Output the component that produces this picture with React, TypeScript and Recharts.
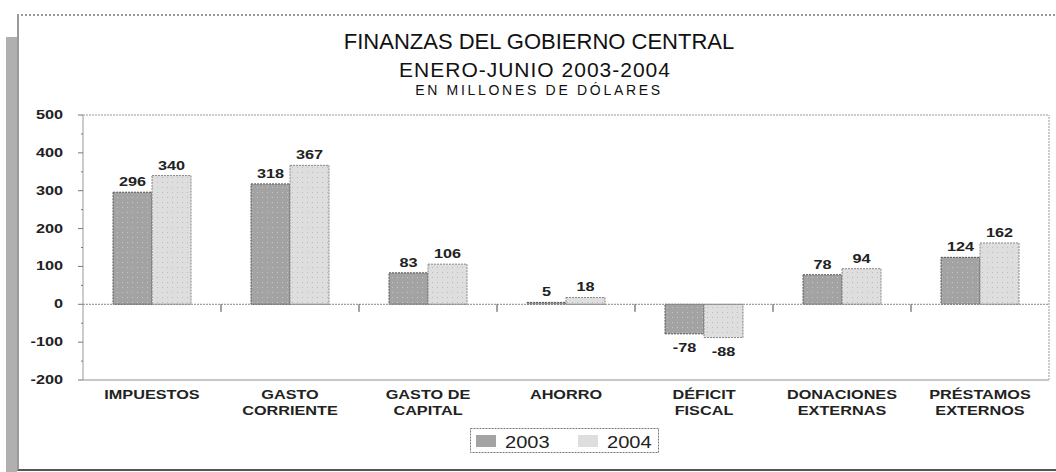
import React from 'react';
import {
  BarChart,
  Bar,
  XAxis,
  YAxis,
  ReferenceLine,
  LabelList,
} from 'recharts';

const categories = [
  'IMPUESTOS',
  'GASTO\nCORRIENTE',
  'GASTO DE\nCAPITAL',
  'AHORRO',
  'DÉFICIT\nFISCAL',
  'DONACIONES\nEXTERNAS',
  'PRÉSTAMOS\nEXTERNOS',
];
const values2003 = [296, 318, 83, 5, -78, 78, 124];
const values2004 = [340, 367, 106, 18, -88, 94, 162];
const yTicks = [-200, -150, -100, -50, 0, 50, 100, 150, 200, 250, 300, 350, 400, 450, 500];
const titleLines = ['FINANZAS DEL GOBIERNO CENTRAL', 'ENERO-JUNIO 2003-2004', 'EN MILLONES DE DÓLARES'];
const seriesNames = ['2003', '2004'];

const data = categories.map((name, i) => ({
  name,
  y2003: values2003[i],
  y2004: values2004[i],
}));

const FONT = 'Arial, "Liberation Sans", Helvetica, sans-serif';
const DARK = '#a3a3a3';
const LIGHT = '#dedede';
const SX = 1.25; // el original tiene el texto ensanchado

const YTick = (props: any) => {
  const { x, y, payload } = props;
  const major = payload.value % 100 === 0;
  return (
    <g>
      <line x1={x + (major ? 3 : 6)} x2={x + 8} y1={y} y2={y} stroke="#777" strokeWidth={1} />
      {major && (
        <g transform={`translate(${x - 12},${y + 4}) scale(${SX},1)`}>
          <text x={0} y={0} textAnchor="end" fontFamily={FONT} fontSize={13} fontWeight="bold" fill="#222">
            {payload.value}
          </text>
        </g>
      )}
    </g>
  );
};

const XTick = (props: any) => {
  const { x, y, payload } = props;
  const lines = String(payload.value).split('\n');
  return (
    <g transform={`translate(${x},${y + 11}) scale(${SX},1)`}>
      <text x={0} y={0} textAnchor="middle" fontFamily={FONT} fontSize={13} fontWeight="bold" fill="#222">
        {lines.map((l, i) => (
          <tspan key={i} x={0} dy={i === 0 ? 0 : 16}>
            {l}
          </tspan>
        ))}
      </text>
    </g>
  );
};

const BarLabel = (props: any) => {
  const { x, y, width, height, value } = props;
  const top = Math.min(y, y + height);
  const bottom = Math.max(y, y + height);
  const ty = value >= 0 ? top - 6 : bottom + 18;
  return (
    <g transform={`translate(${x + width / 2},${ty}) scale(${SX},1)`}>
      <text x={0} y={0} textAnchor="middle" fontFamily={FONT} fontSize={13} fontWeight="bold" fill="#222">
        {value}
      </text>
    </g>
  );
};

export default function App() {
  const lastCat = categories[categories.length - 1];
  return (
    <div style={{ position: 'absolute', left: 0, top: 0, width: 1056, height: 472, background: '#fff', overflow: 'hidden' }}>
      {/* sombra izquierda y marco */}
      <div style={{ position: 'absolute', left: 6, top: 37, width: 11, height: 440, background: '#b0b0b0' }} />
      <div
        style={{
          position: 'absolute',
          left: 17,
          top: 14,
          width: 1060,
          height: 453,
          borderTop: '2px dotted #999',
          borderLeft: '2px solid #9a9a9a',
          borderBottom: '2px solid #555',
          background: '#fff',
        }}
      />
      <div style={{ position: 'absolute', left: 0, top: 0 }}>
        <BarChart
          width={1056}
          height={472}
          data={data}
          margin={{ top: 115, right: 7, bottom: 32, left: 23 }}
          barGap={0}
          barCategoryGap={30}
        >
          <defs>
            <pattern id="dots2003" width="5" height="5" patternUnits="userSpaceOnUse">
              <rect width="5" height="5" fill={DARK} />
              <rect x="2" y="2" width="1" height="1" fill="#c4c4c4" />
            </pattern>
            <pattern id="dots2004" width="5" height="5" patternUnits="userSpaceOnUse">
              <rect width="5" height="5" fill={LIGHT} />
              <rect x="2" y="2" width="1" height="1" fill="#bcbcbc" />
            </pattern>
          </defs>
          <XAxis
            dataKey="name"
            height={60}
            interval={0}
            tick={<XTick />}
            tickLine={false}
            axisLine={{ stroke: '#c8c8c8', strokeWidth: 2 }}
          />
          <YAxis
            width={60}
            domain={[-200, 500]}
            ticks={yTicks}
            interval={0}
            tick={<YTick />}
            tickLine={false}
            axisLine={{ stroke: '#999' }}
          />
          <ReferenceLine y={500} stroke="#999" strokeDasharray="2 1" />
          <ReferenceLine x={lastCat} position="end" stroke="#999" strokeDasharray="2 1" />
          <ReferenceLine y={0} stroke="#888" strokeDasharray="2 1" />
          {categories.slice(1).map((c) => (
            <ReferenceLine
              key={c}
              position="start"
              segment={[
                { x: c, y: 0 },
                { x: c, y: -20 },
              ]}
              stroke="#444"
            />
          ))}
          <Bar dataKey="y2003" name={seriesNames[0]} fill="url(#dots2003)" stroke="#555" strokeDasharray="2 1" isAnimationActive={false}>
            <LabelList dataKey="y2003" content={<BarLabel />} />
          </Bar>
          <Bar dataKey="y2004" name={seriesNames[1]} fill="url(#dots2004)" stroke="#888" strokeDasharray="2 1" isAnimationActive={false}>
            <LabelList dataKey="y2004" content={<BarLabel />} />
          </Bar>
        </BarChart>
      </div>
      {/* título y leyenda */}
      <svg width={1056} height={472} style={{ position: 'absolute', left: 0, top: 0, pointerEvents: 'none' }}>
        <text x={539} y={49} textAnchor="middle" fontFamily={FONT} fontSize={22} fill="#111">
          {titleLines[0]}
        </text>
        <text x={535} y={77} textAnchor="middle" fontFamily={FONT} fontSize={21} letterSpacing={1} fill="#111">
          {titleLines[1]}
        </text>
        <text x={539} y={95} textAnchor="middle" fontFamily={FONT} fontSize={14} letterSpacing={2.7} fill="#111">
          {titleLines[2]}
        </text>
        <rect x={470.5} y={428.5} width={188} height={24} fill="#fff" stroke="#777" strokeDasharray="2 1" />
        <rect x={476} y={435} width={20} height={12} fill={DARK} />
        <g transform={`translate(505,448) scale(1.18,1)`}>
          <text x={0} y={0} fontFamily={FONT} fontSize={17} fill="#222">{seriesNames[0]}</text>
        </g>
        <rect x={578} y={435} width={20} height={12} fill={LIGHT} />
        <g transform={`translate(607,448) scale(1.18,1)`}>
          <text x={0} y={0} fontFamily={FONT} fontSize={17} fill="#222">{seriesNames[1]}</text>
        </g>
      </svg>
    </div>
  );
}
